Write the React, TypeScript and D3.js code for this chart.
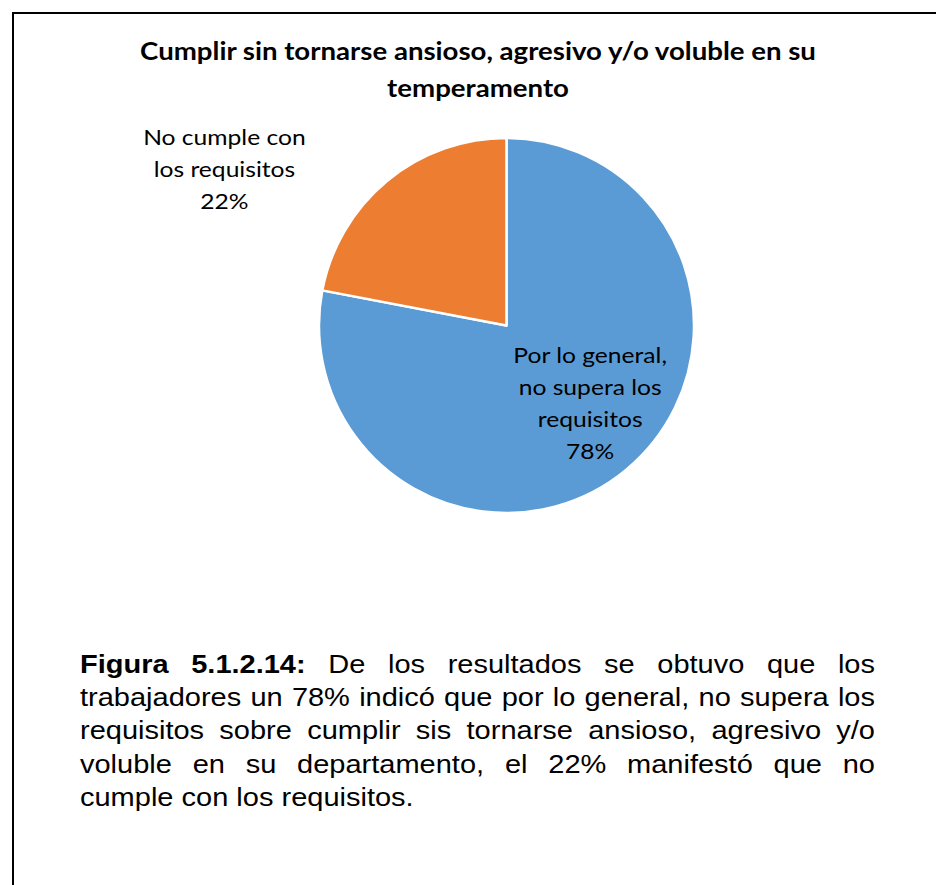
import React, { useMemo } from "react";
import * as d3 from "d3";

const WIDTH = 936;
const HEIGHT = 885;

// pie data
const categories = ["Por lo general, no supera los requisitos", "No cumple con los requisitos"];
const values = [78, 22];
const colors = ["#5B9BD5", "#ED7D31"];
const labelLines = [
  ["Por lo general,", "no supera los", "requisitos", "78%"],
  ["No cumple con", "los requisitos", "22%"],
];

const titleLines = ["Cumplir sin tornarse ansioso, agresivo y/o voluble en su", "temperamento"];

// caption, each line: [boldPart, normalPart, justified]
const captionLines: [string, string, boolean][] = [
  ["Figura 5.1.2.14:", "De los resultados se obtuvo que los", true],
  ["", "trabajadores un 78% indicó que por lo general, no supera los", true],
  ["", "requisitos sobre cumplir sis tornarse ansioso, agresivo y/o", true],
  ["", "voluble en su departamento, el 22% manifestó que no", true],
  ["", "cumple con los requisitos.", false],
];

const PIE = { cx: 506.5, cy: 325.5, r: 187.5 };
const LABEL_FONT = "Lato, 'Open Sans', sans-serif";
const CAPTION_FONT = "'Liberation Sans', Arial, sans-serif";
// the source image is a bit stretched sideways, so text gets a horizontal scale
const TITLE = { x: 478, y0: 60, lineH: 37, size: 24, sx: 1.15 };
const LABEL = { size: 22, lineH: 32, sx: 1.12 };
const CAPTION = { x: 80, right: 875, y0: 673, lineH: 33.2, size: 25, sx: 1.16 };

// label centers relative to pie centre (angle in deg from top, distance in radius units)
const LABEL_POS = [
  { angle: 133, dist: 0.61 },
  { angle: 299, dist: 1.72 },
];

let ctx: CanvasRenderingContext2D | null = null;
const measure = (text: string, bold: boolean) => {
  if (!ctx) ctx = document.createElement("canvas").getContext("2d");
  if (!ctx) return text.length * CAPTION.size * 0.5 * CAPTION.sx;
  ctx.font = `${bold ? "bold " : ""}${CAPTION.size}px 'Liberation Sans', Arial, sans-serif`;
  return ctx.measureText(text).width * CAPTION.sx;
};

const Caption = () => {
  const lines = useMemo(() => {
    return captionLines.map(([b, n, justify]) => {
      const words = [
        ...(b ? b.split(" ").map((w) => ({ w, bold: true })) : []),
        ...n.split(" ").map((w) => ({ w, bold: false })),
      ];
      const widths = words.map((d) => measure(d.w, d.bold));
      const total = d3.sum(widths);
      const space = measure(" ", false);
      const gap = justify && words.length > 1
        ? (CAPTION.right - CAPTION.x - total) / (words.length - 1)
        : space;
      let x = CAPTION.x;
      return words.map((d, i) => {
        const pos = { ...d, x };
        x += widths[i] + gap;
        return pos;
      });
    });
  }, []);

  return (
    <g fontFamily={CAPTION_FONT} fontSize={CAPTION.size} fill="#000">
      {lines.map((line, i) => (
        <g key={i}>
          {line.map((d, j) => (
            <text
              key={j}
              transform={`translate(${d.x},${CAPTION.y0 + i * CAPTION.lineH}) scale(${CAPTION.sx},1)`}
              fontWeight={d.bold ? "bold" : "normal"}
            >
              {d.w}
            </text>
          ))}
        </g>
      ))}
    </g>
  );
};

export default function App() {
  const arcs = useMemo(() => {
    const pie = d3.pie<number>().sort(null).value((d) => d);
    return pie(values);
  }, []);

  const arcGen = d3.arc<d3.PieArcDatum<number>>().innerRadius(0).outerRadius(PIE.r);

  return (
    <div>
      <style>{`body{margin:0}`}</style>
      <svg width={WIDTH} height={HEIGHT} style={{ display: "block", background: "#fff" }}>
        {/* frame */}
        <path d={`M13,${HEIGHT} V13 H${WIDTH}`} fill="none" stroke="#000" strokeWidth={2} />

        {/* title */}
        <g fontFamily={LABEL_FONT} fontWeight="bold" fontSize={TITLE.size} textAnchor="middle" fill="#000">
          {titleLines.map((t, i) => (
            <text key={i} transform={`translate(${TITLE.x},${TITLE.y0 + i * TITLE.lineH}) scale(${TITLE.sx},1)`}>
              {t}
            </text>
          ))}
        </g>

        {/* pie */}
        <g transform={`translate(${PIE.cx},${PIE.cy})`}>
          {arcs.map((a, i) => (
            <path key={categories[i]} d={arcGen(a) || ""} fill={colors[i]} stroke="#fff" strokeWidth={2.5} strokeLinejoin="round" />
          ))}
          {labelLines.map((lines, i) => {
            const ang = (LABEL_POS[i].angle * Math.PI) / 180;
            const lx = Math.sin(ang) * LABEL_POS[i].dist * PIE.r;
            const ly = -Math.cos(ang) * LABEL_POS[i].dist * PIE.r;
            const top = ly - ((lines.length - 1) * LABEL.lineH) / 2;
            return (
              <g key={i} fontFamily={LABEL_FONT} fontSize={LABEL.size} textAnchor="middle" fill="#000">
                {lines.map((t, j) => (
                  <text key={j} transform={`translate(${lx},${top + j * LABEL.lineH}) scale(${LABEL.sx},1)`} dy="0.35em">
                    {t}
                  </text>
                ))}
              </g>
            );
          })}
        </g>

        <Caption />
      </svg>
    </div>
  );
}
